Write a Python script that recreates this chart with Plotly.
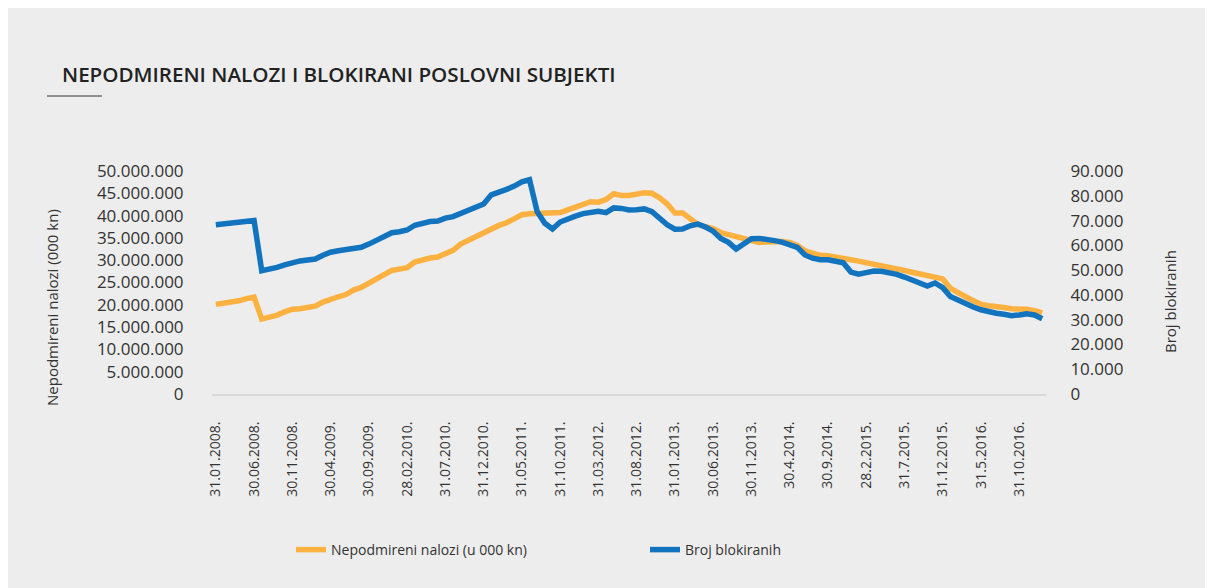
import plotly.graph_objects as go

# Tick labels shown every 5th month (monthly data Jan 2008 - Jan 2017)
tick_labels = ["31.01.2008.", "30.06.2008.", "30.11.2008.", "30.04.2009.", "30.09.2009.",
               "28.02.2010.", "31.07.2010.", "31.12.2010.", "31.05.2011.", "31.10.2011.",
               "31.03.2012.", "31.08.2012.", "31.01.2013.", "30.06.2013.", "30.11.2013.",
               "30.4.2014.", "30.9.2014.", "28.2.2015.", "31.7.2015.", "31.12.2015.",
               "31.5.2016.", "31.10.2016."]

# Nepodmireni nalozi (u milijunima; axis in 000 kn)
nalozi_mil = [20.1, 20.3, 20.6, 20.9, 21.4, 21.7, 16.8, 17.1, 17.7, 18.4,
              19.0, 19.1, 19.4, 19.7, 20.6, 21.3, 21.8, 22.3, 23.3, 23.9,
              24.8, 25.6, 26.7, 27.7, 28.0, 28.3, 29.6, 30.2, 30.5, 30.7,
              31.5, 32.2, 33.6, 34.5, 35.2, 36.0, 36.9, 37.8, 38.4, 39.3,
              40.2, 40.4, 40.4, 40.4, 40.5, 40.7, 41.3, 41.9, 42.3, 43.1,
              43.0, 43.6, 44.9, 44.5, 44.5, 44.8, 45.1, 45.0, 44.0, 42.6,
              40.6, 40.6, 39.1, 38.0, 37.5, 37.1, 36.2, 35.8, 35.4, 35.0,
              34.5, 34.0, 34.1, 34.2, 34.2, 34.0, 33.3, 32.1, 31.6, 31.1,
              31.0, 30.6, 30.3, 30.1, 29.8, 29.5, 29.1, 28.6, 28.5, 28.1,
              27.7, 27.3, 27.0, 26.4, 26.2, 25.8, 23.7, 22.6, 21.8, 20.9,
              20.1, 19.8, 19.7, 19.4, 19.1, 19.2, 19.0, 18.7, 18.2]

# Broj blokiranih (u tisućama)
blokirani_tis = [68.3, 68.7, 69.2, 69.6, 69.8, 70.0, 49.8, 50.3, 51.1, 52.1,
                 53.0, 53.7, 54.1, 54.5, 56.0, 57.2, 57.8, 58.1, 58.8, 59.2,
                 60.5, 62.2, 63.8, 65.1, 65.5, 66.2, 68.1, 69.0, 69.6, 69.8,
                 71.0, 71.6, 72.8, 74.1, 75.5, 76.7, 80.4, 81.3, 82.6, 83.9,
                 85.6, 86.5, 73.6, 68.9, 66.6, 69.4, 70.9, 71.8, 72.8, 73.3,
                 73.7, 73.2, 75.1, 74.9, 74.3, 74.4, 74.7, 73.6, 70.9, 68.3,
                 66.5, 66.6, 67.9, 68.6, 67.4, 65.7, 62.8, 61.2, 58.5, 60.5,
                 62.7, 62.8, 62.6, 61.9, 61.3, 60.5, 59.2, 56.1, 54.8, 54.2,
                 54.2, 53.6, 53.0, 49.2, 48.4, 49.0, 49.6, 49.5, 49.0, 48.3,
                 47.2, 45.9, 44.3, 43.6, 44.8, 42.9, 39.3, 37.7, 36.5, 35.1,
                 34.0, 33.1, 32.6, 32.2, 31.6, 31.9, 32.4, 31.9, 30.4]

nalozi = [v * 1_000_000 for v in nalozi_mil]
blokirani = [v * 1000 for v in blokirani_tis]
x_idx = list(range(len(nalozi)))
tick_pos = list(range(0, len(nalozi), 5))[:len(tick_labels)]

ORANGE = "#FDB140"
BLUE = "#1273BE"
BG = "#EDEDED"
TXT = "#333333"

# page offset (body margin) and plot area in figure pixels
OFF = 8
L, R, T, B = 212 - OFF, 1046 - OFF, 171 - OFF, 394 - OFF
def px(xs):
    return (xs - OFF - L) / (R - L)
def py(ys):
    return (B - (ys - OFF)) / (B - T)

fig = go.Figure()
fig.add_trace(go.Scatter(x=x_idx, y=nalozi, name="Nepodmireni nalozi (u 000 kn)",
                         mode="lines", line=dict(color=ORANGE, width=5.5)))
fig.add_trace(go.Scatter(x=x_idx, y=blokirani, name="Broj blokiranih",
                         mode="lines", line=dict(color=BLUE, width=5.5), yaxis="y2"))

tick_font = dict(family="Open Sans", size=17, color=TXT)

fig.update_layout(
    width=1213, height=588,
    paper_bgcolor=BG, plot_bgcolor=BG,
    margin=dict(l=L, r=1213 - R, t=T, b=588 - B, pad=0),
    separators=",.",
    showlegend=True,
    legend=dict(orientation="h", x=px(291), y=py(550), yanchor="middle", xanchor="left",
                entrywidth=309, entrywidthmode="pixels",
                font=dict(family="Open Sans", size=14, color=TXT), bgcolor="rgba(0,0,0,0)"),
    xaxis=dict(range=[-0.5, len(nalozi) - 0.5], tickmode="array", tickvals=tick_pos,
               ticktext=tick_labels, tickangle=-90, showgrid=False, zeroline=False,
               showline=True, linecolor="#D9D9D9", linewidth=2,
               ticks="outside", ticklen=20, tickcolor="rgba(0,0,0,0)",
               tickfont=dict(family="Open Sans", size=14, color=TXT)),
    yaxis=dict(range=[0, 50_000_000], dtick=5_000_000, tickformat=",d", showgrid=False,
               zeroline=False, showline=False, ticks="outside", ticklen=24,
               tickcolor="rgba(0,0,0,0)", tickfont=tick_font),
    yaxis2=dict(range=[0, 90_000], dtick=10_000, tickformat=",d", overlaying="y", side="right",
                showgrid=False, zeroline=False, showline=False, ticks="outside", ticklen=20,
                tickcolor="rgba(0,0,0,0)", tickfont=tick_font),
    annotations=[
        dict(text="NEPODMIRENI NALOZI I BLOKIRANI POSLOVNI SUBJEKTI", xref="paper", yref="paper",
             x=px(60), y=py(74), xanchor="left", yanchor="middle", showarrow=False,
             font=dict(family="Open Sans", size=20.6, color="#222222", weight=600)),
        dict(text="Nepodmireni nalozi (000 kn)", xref="paper", yref="paper", x=px(52), y=py(308),
             textangle=-90, xanchor="center", yanchor="middle", showarrow=False,
             font=dict(family="Open Sans", size=15, color=TXT)),
        dict(text="Broj blokiranih", xref="paper", yref="paper", x=px(1170), y=py(302),
             textangle=-90, xanchor="center", yanchor="middle", showarrow=False,
             font=dict(family="Open Sans", size=15, color=TXT)),
    ],
    shapes=[
        dict(type="line", xref="paper", yref="paper", x0=px(47), x1=px(102), y0=py(96), y1=py(96),
             line=dict(color="#333333", width=1)),
    ],
)

fig.write_html("out.html")
